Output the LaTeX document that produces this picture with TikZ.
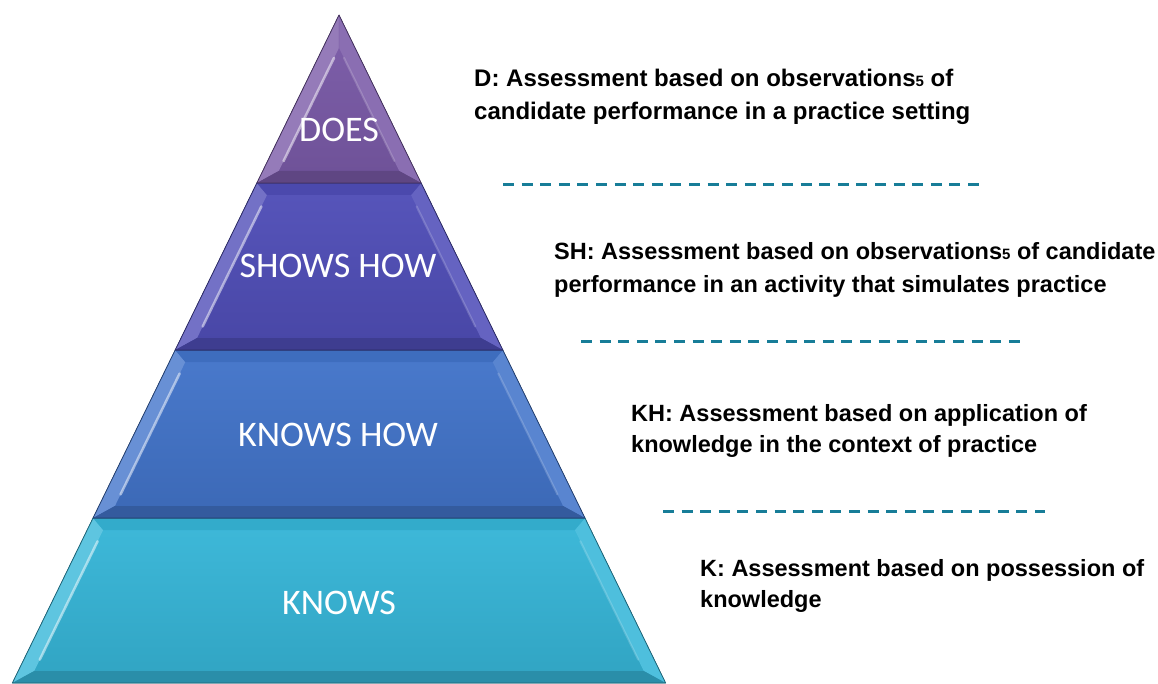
\documentclass[tikz,border=0pt]{standalone}
\usepackage{fontspec}
\setmainfont{Liberation Sans}
\newfontfamily\calib{Carlito}
\usetikzlibrary{calc}
\definecolor{doesc}{RGB}{122,90,168}
\definecolor{showc}{RGB}{80,78,184}
\definecolor{khowc}{RGB}{66,116,202}
\definecolor{knowc}{RGB}{54,182,216}
\definecolor{sepc}{RGB}{23,125,152}
\newcommand\pyrlayer[3]{% #1 top y, #2 bottom y, #3 colour
  \pgfmathsetmacro\Lt{339-0.489*(#1-15)}
  \pgfmathsetmacro\Rt{339+0.489*(#1-15)}
  \pgfmathsetmacro\Lb{339-0.489*(#2-15)}
  \pgfmathsetmacro\Rb{339+0.489*(#2-15)}
  \pgfmathsetmacro\Yti{max(#1+12,48)}
  \pgfmathsetmacro\Ybi{#2-12}
  \pgfmathsetmacro\Lti{min(339,339-0.489*(\Yti-15)+16)}
  \pgfmathsetmacro\Rti{max(339,339+0.489*(\Yti-15)-16)}
  \pgfmathsetmacro\Lbi{339-0.489*(\Ybi-15)+16}
  \pgfmathsetmacro\Rbi{339+0.489*(\Ybi-15)-16}
  \fill[top color=#3!96!white, bottom color=#3!90!black]
    (\Lt,#1) -- (\Rt,#1) -- (\Rb,#2) -- (\Lb,#2) -- cycle;
  \fill[#3!80!white] (\Lt,#1) -- (\Lti,\Yti) -- (\Lbi,\Ybi) -- (\Lb,#2) -- cycle;
  \fill[#3!88!white] (\Rt,#1) -- (\Rti,\Yti) -- (\Rbi,\Ybi) -- (\Rb,#2) -- cycle;
  \fill[#3!94!black] (\Lt,#1) -- (\Rt,#1) -- (\Rti,\Yti) -- (\Lti,\Yti) -- cycle;
  \fill[#3!78!black] (\Lb,#2) -- (\Lbi,\Ybi) -- (\Rbi,\Ybi) -- (\Rb,#2) -- cycle;
  \draw[white, opacity=.5, line width=2.5pt, line cap=round]
    ($(\Lti,\Yti)!.08!(\Lbi,\Ybi)$) -- ($(\Lti,\Yti)!.92!(\Lbi,\Ybi)$);
  \draw[white, opacity=.18, line width=2pt, line cap=round]
    ($(\Rti,\Yti)!.08!(\Rbi,\Ybi)$) -- ($(\Rti,\Yti)!.92!(\Rbi,\Ybi)$);
  \draw[#3!55!black, line width=.8pt, line join=round]
    (\Lt,#1) -- (\Rt,#1) -- (\Rb,#2) -- (\Lb,#2) -- cycle;
}
\tikzset{
  lbl/.style={text=white, inner sep=0pt, font=\calib\fontsize{36}{40}\selectfont},
  desc/.style={anchor=base west, inner sep=0pt, align=left,
    font=\bfseries\fontsize{23.5}{32.5}\selectfont},
  sep/.style={draw=sepc, line width=3pt, dash pattern=on 11pt off 7.6pt},
}
\newcommand\fnm{{\fontsize{15}{15}\selectfont 5}}
\begin{document}
\begin{tikzpicture}[x=1pt,y=-1pt]
\useasboundingbox (0,0) rectangle (1158,684);
\pyrlayer{518}{683}{knowc}
\pyrlayer{350}{518}{khowc}
\pyrlayer{183}{350}{showc}
\pyrlayer{15}{183}{doesc}
\node[lbl] (does)  at (339,130) {DOES};
\node[lbl] (shows) at (338,265.5) {SHOWS HOW};
\node[lbl] (khow)  at (338,435) {KNOWS HOW};
\node[lbl] (knows) at (339,603) {KNOWS};
\node[desc, font=\bfseries\fontsize{24}{33.5}\selectfont] (dd) at (474,120) {D: Assessment based on observations\fnm{} of\\candidate performance in a practice setting};
\node[desc, font=\bfseries\fontsize{23.5}{33}\selectfont] (sd) at (554,293) {SH: Assessment based on observations\fnm{} of candidate\\performance in an activity that simulates practice};
\node[desc, font=\bfseries\fontsize{23.5}{31}\selectfont] (kd) at (631,452) {KH: Assessment based on application of\\knowledge in the context of practice};
\node[desc, font=\bfseries\fontsize{23.5}{31}\selectfont] (kn) at (700,607) {K: Assessment based on possession of\\knowledge};
\coordinate (s1a) at (503,185); \coordinate (s1b) at (980,185);
\coordinate (s2a) at (581,341); \coordinate (s2b) at (1020,341);
\coordinate (s3a) at (663,511); \coordinate (s3b) at (1045,511);
\draw[sep] (s1a) -- (s1b);
\draw[sep] (s2a) -- (s2b);
\draw[sep] (s3a) -- (s3b);
\end{tikzpicture}
\end{document}
